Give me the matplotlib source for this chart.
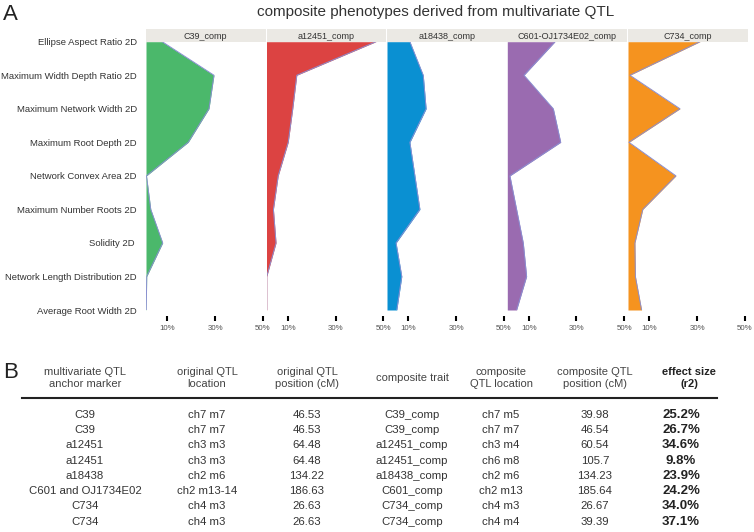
import matplotlib
matplotlib.use("Agg")
import matplotlib.pyplot as plt
from matplotlib.lines import Line2D

plt.rcParams['font.family'] = ['Liberation Sans', 'DejaVu Sans']

W, H = 754, 532

traits = ["Ellipse Aspect Ratio 2D", "Maximum Width Depth Ratio 2D", "Maximum Network Width 2D",
          "Maximum Root Depth 2D", "Network Convex Area 2D", "Maximum Number Roots 2D",
          "Solidity 2D ", "Network Length Distribution 2D", "Average Root Width 2D"]

panels = ["C39_comp", "a12451_comp", "a18438_comp", "C601-OJ1734E02_comp", "C734_comp"]
colors = ["#4bb86b", "#dc4342", "#0a90d2", "#9a6bb0", "#f5931f"]

c39_vals = [0.078, 0.295, 0.274, 0.187, 0.012, 0.030, 0.080, 0.013, 0.011]
a12451_vals = [0.469, 0.137, 0.120, 0.101, 0.059, 0.039, 0.050, 0.011, 0.011]
a18438_vals = [0.106, 0.162, 0.174, 0.106, 0.127, 0.148, 0.048, 0.072, 0.051]
c601_vals = [0.210, 0.080, 0.203, 0.234, 0.021, 0.049, 0.077, 0.091, 0.049]
c734_vals = [0.312, 0.018, 0.228, 0.014, 0.211, 0.072, 0.039, 0.041, 0.067]
series = [c39_vals, a12451_vals, a18438_vals, c601_vals, c734_vals]

xticks = [0.1, 0.3, 0.5]
xticklabels = ["10%", "30%", "50%"]

# table data
col_headers = ["multivariate QTL\nanchor marker", "original QTL\nlocation", "original QTL\nposition (cM)",
               "composite trait", "composite\nQTL location", "composite QTL\nposition (cM)", "effect size\n(r2)"]
anchor = ["C39", "C39", "a12451", "a12451", "a18438", "C601 and OJ1734E02", "C734", "C734"]
orig_loc = ["ch7 m7", "ch7 m7", "ch3 m3", "ch3 m3", "ch2 m6", "ch2 m13-14", "ch4 m3", "ch4 m3"]
orig_pos = ["46.53", "46.53", "64.48", "64.48", "134.22", "186.63", "26.63", "26.63"]
comp_trait = ["C39_comp", "C39_comp", "a12451_comp", "a12451_comp", "a18438_comp", "C601_comp", "C734_comp", "C734_comp"]
comp_loc = ["ch7 m5", "ch7 m7", "ch3 m4", "ch6 m8", "ch2 m6", "ch2 m13", "ch4 m3", "ch4 m4"]
comp_pos = ["39.98", "46.54", "60.54", "105.7", "134.23", "185.64", "26.67", "39.39"]
effect = ["25.2%", "26.7%", "34.6%", "9.8%", "23.9%", "24.2%", "34.0%", "37.1%"]

fig = plt.figure(figsize=(W / 100, H / 100), dpi=100)

def fx(x):
    return x / W

def fy(y):
    return 1 - y / H

xlim = (0.01, 0.511)
panel_lefts = [146, 266.5, 387, 507.3, 628]
pw = 119.5
ptop, pbot = 41.7, 310
strip_top = 29.3
ys = list(range(len(traits)))

for i, (name, vals, col) in enumerate(zip(panels, series, colors)):
    left = panel_lefts[i]
    ax = fig.add_axes([fx(left), fy(pbot), pw / W, (pbot - ptop) / H])
    ax.fill_betweenx(ys, xlim[0], vals, color=col, linewidth=0)
    ax.plot(vals, ys, color="#8a8fd2", linewidth=0.7)
    ax.set_xlim(*xlim)
    ax.set_ylim(len(traits) - 1, 0)
    for s in ["top", "right", "left"]:
        ax.spines[s].set_visible(False)
    ax.spines["bottom"].set_position(("outward", 4.3))
    ax.spines["bottom"].set_visible(False)
    ax.set_xticks(xticks)
    ax.set_xticklabels(xticklabels, fontsize=5.7, color="#555555")
    ax.tick_params(axis="x", length=3.5, width=1.5, color="black", pad=2.8)
    if i == 0:
        ax.set_yticks(ys)
        ax.set_yticklabels(traits, fontsize=6.8, color="#333333")
        ax.tick_params(axis="y", length=0, pad=6.5)
    else:
        ax.set_yticks([])
    # strip
    sax = fig.add_axes([fx(left), fy(ptop), pw / W, (ptop - strip_top) / H])
    sax.set_facecolor("#ebe9e4")
    sax.set_xticks([]); sax.set_yticks([])
    for s in sax.spines.values():
        s.set_visible(False)
    sax.text(0.5, 0.45, name, ha="center", va="center", fontsize=6.5, color="#333333",
             transform=sax.transAxes)

fig.text(fx(436), fy(12), "composite phenotypes derived from multivariate QTL", ha="center", va="center",
         fontsize=11, color="#333333")
fig.text(fx(3), fy(15), "A", ha="left", va="center", fontsize=16, color="#222222")
fig.text(fx(3), fy(373), "B", ha="left", va="center", fontsize=16, color="#222222")

# table
col_x = [85, 207, 307, 412, 501, 595, 681]
head_x = [85, 207, 307, 412, 501, 595, 689]
for j, h in enumerate(col_headers):
    bold = (j == 6)
    fig.text(fx(head_x[j]), fy(378), h, ha="center", va="center", fontsize=8,
             color="#222222" if bold else "#444444", fontweight="bold" if bold else "normal",
             linespacing=1.3)

fig.add_artist(Line2D([fx(21.7), fx(716.7)], [fy(398), fy(398)], color="#222222", linewidth=1.5))

columns = [anchor, orig_loc, orig_pos, comp_trait, comp_loc, comp_pos, effect]
for j, colvals in enumerate(columns):
    for r, v in enumerate(colvals):
        bold = (j == 6)
        fig.text(fx(col_x[j]), fy(415 + r * 15.24), v, ha="center", va="center",
                 fontsize=9.5 if bold else 8.2, color="#222222" if bold else "#333333",
                 fontweight="bold" if bold else "normal")

fig.savefig("out.png", dpi=100)
